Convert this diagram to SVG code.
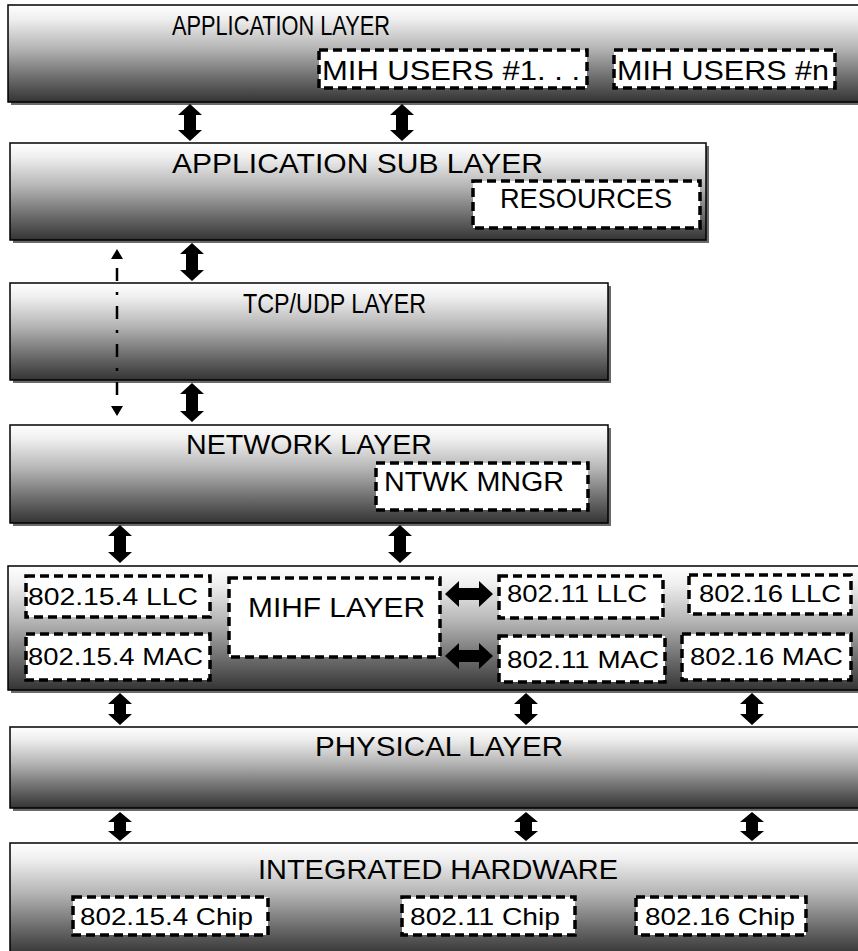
<svg xmlns="http://www.w3.org/2000/svg" width="858" height="951" viewBox="0 0 858 951">
<defs>
<linearGradient id="g" x1="0" y1="0" x2="0" y2="1">
<stop offset="0" stop-color="#ffffff"/>
<stop offset="0.15" stop-color="#eeeeee"/>
<stop offset="0.45" stop-color="#b4b4b4"/>
<stop offset="0.75" stop-color="#6c6c6c"/>
<stop offset="1" stop-color="#343434"/>
</linearGradient>
<marker id="ah" viewBox="0 0 10 12" refX="5" refY="6" markerWidth="10" markerHeight="12" orient="auto-start-reverse" markerUnits="userSpaceOnUse">
<path d="M0,0 L10,6 L0,12 Z" fill="#000"/>
</marker>
</defs>
<style>
.layer{fill:url(#g);stroke:#000;stroke-width:1.5}
.shadow{fill:#6a6a6a}
.box{fill:#fff;stroke:#000;stroke-width:3.5;stroke-dasharray:9 5}
.t{font-family:"Liberation Sans",Arial,sans-serif;fill:#000}
.title{font-size:28px}
.big{font-size:27px}
.lbl{font-size:24px}
.arr{fill:#000}
</style>

<g id="application-layer">
<rect class="shadow" x="11" y="8" width="850" height="97"/>
<rect class="layer" x="8" y="5" width="852" height="97"/>
<text class="t title" x="172" y="35" textLength="218" lengthAdjust="spacingAndGlyphs">APPLICATION LAYER</text>
</g>
<g id="mih-users-1">
<rect class="box" x="319" y="50" width="268" height="38"/>
<text class="t big" x="322" y="80" textLength="258" lengthAdjust="spacingAndGlyphs">MIH USERS #1. . .</text>
</g>
<g id="mih-users-n">
<rect class="box" x="614" y="50" width="221" height="38"/>
<text class="t big" x="617" y="80" textLength="212" lengthAdjust="spacingAndGlyphs">MIH USERS #n</text>
</g>

<g id="application-sub-layer">
<rect class="shadow" x="13" y="146" width="696" height="97"/>
<rect class="layer" x="10" y="143" width="696" height="97"/>
<text class="t title" x="172" y="173" textLength="371" lengthAdjust="spacingAndGlyphs">APPLICATION SUB LAYER</text>
</g>
<g id="resources">
<rect class="box" x="473" y="181" width="227" height="47"/>
<text class="t big" x="500" y="208" textLength="172" lengthAdjust="spacingAndGlyphs">RESOURCES</text>
</g>

<g id="tcp-udp-layer">
<rect class="shadow" x="13" y="286" width="598" height="97"/>
<rect class="layer" x="10" y="283" width="598" height="97"/>
<text class="t title" x="243" y="313" textLength="183" lengthAdjust="spacingAndGlyphs">TCP/UDP LAYER</text>
</g>

<g id="network-layer">
<rect class="shadow" x="13" y="428" width="598" height="98"/>
<rect class="layer" x="10" y="425" width="598" height="98"/>
<text class="t title" x="186" y="454" textLength="246" lengthAdjust="spacingAndGlyphs">NETWORK LAYER</text>
</g>
<g id="ntwk-mngr">
<rect class="box" x="376" y="463" width="212" height="47"/>
<text class="t big" x="384" y="491" textLength="180" lengthAdjust="spacingAndGlyphs">NTWK MNGR</text>
</g>

<g id="mihf-block">
<rect class="shadow" x="11" y="569" width="850" height="124"/>
<rect class="layer" x="8" y="566" width="852" height="124"/>
</g>
<g id="llc-802-15-4">
<rect class="box" x="26" y="576" width="184" height="41"/>
<text class="t lbl" x="28" y="605" textLength="170" lengthAdjust="spacingAndGlyphs">802.15.4 LLC</text>
</g>
<g id="mihf-layer">
<rect class="box" x="229" y="578" width="211" height="79"/>
<text class="t title" x="248" y="617" textLength="177" lengthAdjust="spacingAndGlyphs">MIHF LAYER</text>
</g>
<g id="llc-802-11">
<rect class="box" x="499" y="576" width="164" height="42"/>
<text class="t lbl" x="507" y="602" textLength="140" lengthAdjust="spacingAndGlyphs">802.11 LLC</text>
</g>
<g id="llc-802-16">
<rect class="box" x="689" y="575" width="162" height="39"/>
<text class="t lbl" x="699" y="602" textLength="142" lengthAdjust="spacingAndGlyphs">802.16 LLC</text>
</g>
<g id="mac-802-15-4">
<rect class="box" x="26" y="634" width="184" height="46"/>
<text class="t lbl" x="28" y="665" textLength="175" lengthAdjust="spacingAndGlyphs">802.15.4 MAC</text>
</g>
<g id="mac-802-11">
<rect class="box" x="499" y="636" width="166" height="46"/>
<text class="t lbl" x="507" y="668" textLength="152" lengthAdjust="spacingAndGlyphs">802.11 MAC</text>
</g>
<g id="mac-802-16">
<rect class="box" x="682" y="634" width="169" height="46"/>
<text class="t lbl" x="690" y="665" textLength="153" lengthAdjust="spacingAndGlyphs">802.16 MAC</text>
</g>

<g id="physical-layer">
<rect class="shadow" x="13" y="730" width="848" height="81"/>
<rect class="layer" x="10" y="727" width="850" height="81"/>
<text class="t title" x="315" y="756" textLength="248" lengthAdjust="spacingAndGlyphs">PHYSICAL LAYER</text>
</g>

<g id="integrated-hardware">
<rect class="layer" x="10" y="843" width="850" height="112"/>
<text class="t title" x="258" y="879" textLength="360" lengthAdjust="spacingAndGlyphs">INTEGRATED HARDWARE</text>
</g>
<g id="chip-802-15-4">
<rect class="box" x="73" y="897" width="195" height="38"/>
<text class="t lbl" x="80" y="925" textLength="173" lengthAdjust="spacingAndGlyphs">802.15.4 Chip</text>
</g>
<g id="chip-802-11">
<rect class="box" x="402" y="897" width="173" height="38"/>
<text class="t lbl" x="410" y="925" textLength="150" lengthAdjust="spacingAndGlyphs">802.11 Chip</text>
</g>
<g id="chip-802-16">
<rect class="box" x="636" y="897" width="170" height="38"/>
<text class="t lbl" x="645" y="925" textLength="150" lengthAdjust="spacingAndGlyphs">802.16 Chip</text>
</g>

<g id="connectors">
<path class="arr" d="M190,104 l12,11 h-6 v15 h6 l-12,11 l-12,-11 h6 v-15 h-6 z"/>
<path class="arr" d="M402,104 l12,11 h-6 v15 h6 l-12,11 l-12,-11 h6 v-15 h-6 z"/>
<path class="arr" d="M192,243 l12,11 h-6 v16 h6 l-12,11 l-12,-11 h6 v-16 h-6 z"/>
<path class="arr" d="M192,383 l12,11 h-6 v17 h6 l-12,11 l-12,-11 h6 v-17 h-6 z"/>
<path class="arr" d="M120,525 l12,11 h-6 v16 h6 l-12,11 l-12,-11 h6 v-16 h-6 z"/>
<path class="arr" d="M400,525 l12,11 h-6 v16 h6 l-12,11 l-12,-11 h6 v-16 h-6 z"/>
<path class="arr" d="M120,693 l12,11 h-6 v10 h6 l-12,11 l-12,-11 h6 v-10 h-6 z"/>
<path class="arr" d="M526,693 l12,11 h-6 v10 h6 l-12,11 l-12,-11 h6 v-10 h-6 z"/>
<path class="arr" d="M752,693 l12,11 h-6 v10 h6 l-12,11 l-12,-11 h6 v-10 h-6 z"/>
<path class="arr" d="M120,812 l12,10 h-6 v9 h6 l-12,10 l-12,-10 h6 v-9 h-6 z"/>
<path class="arr" d="M526,812 l12,10 h-6 v9 h6 l-12,10 l-12,-10 h6 v-9 h-6 z"/>
<path class="arr" d="M752,812 l12,10 h-6 v9 h6 l-12,10 l-12,-10 h6 v-9 h-6 z"/>
<path class="arr" d="M445,594 l14,-13 v7 h20 v-7 l14,13 l-14,13 v-7 h-20 v7 z"/>
<path class="arr" d="M445,656 l14,-13 v7 h20 v-7 l14,13 l-14,13 v-7 h-20 v7 z"/>
<line x1="117" y1="254" x2="117" y2="411" stroke="#000" stroke-width="2.5" stroke-dasharray="3 11 13 11" marker-start="url(#ah)" marker-end="url(#ah)"/>
</g>
</svg>
